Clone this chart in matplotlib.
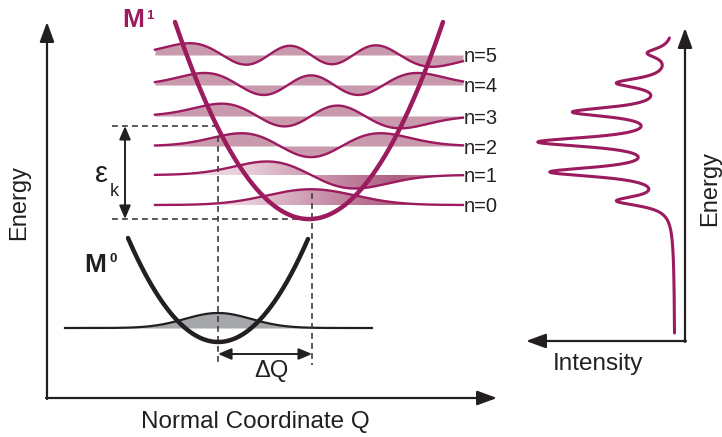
import numpy as np
import matplotlib.pyplot as plt
from matplotlib.colors import LinearSegmentedColormap
from matplotlib.patches import Polygon
from numpy.polynomial.hermite import hermval
from math import factorial, pi, sqrt

plt.rcParams['font.family'] = ['Liberation Sans', 'DejaVu Sans']

MAGENTA = '#9c1a5e'
PINK = '#c999ad'
INK = '#231f20'
DASH = '#3c3c3c'

# 画布按像素坐标 (x 向右, y 向下)
# 势能曲线 M1 / M0 上的三个点 (左端, 最低点, 右端)
m1_curve_x = [175, 312, 443]
m1_curve_y = [22, 219, 22]
m0_curve_x = [128, 218, 308]
m0_curve_y = [238, 342, 239]

# M1 的振动能级 n=0..5
levels_n = [0, 1, 2, 3, 4, 5]
levels_y = [205, 175, 146, 116, 85, 55]
wf_center = 311
wf_scale = 44
wf_amp = 21
wf_x = (155, 463)

# M0 基态振动波函数
ground_y = 328
ground_center = 218
ground_scale = 33
ground_amp = 20
ground_x = (65, 372)

# 右侧光谱 (强度向左)
spec_peak_y = [201, 172, 142, 112, 83, 53]
spec_peak_amp = [52, 117, 128, 94, 52, 24]
spec_width = 6
spec_base_x = 675
spec_y = (333, 38)

# 坐标轴 (原点, 箭头终点)
left_origin = (47, 398)
left_tip_y = 22
left_tip_x = 497
right_origin = (685, 341)
right_tip_y = 28
right_tip_x = 526

# 标注位置
eps_top, eps_bottom, eps_x, dash_left = 126, 219, 125, 112
dq_y, dq_x0, dq_x1 = 354, 218, 312
vdash_bottom = 365


def psi(n, xi):
    c = np.zeros(n + 1)
    c[n] = 1
    norm = 1 / sqrt(2 ** n * factorial(n)) * pi ** -0.25
    return norm * hermval(xi, c) * np.exp(-xi ** 2 / 2)


def parabola(px, py, num=300):
    coef = np.polyfit(px, py, 2)
    x = np.linspace(px[0], px[-1], num)
    return x, np.polyval(coef, x)


def arrow(ax, start, end, style='-|>', hl=0.6, hw=0.22, lw=1.6, ms=20):
    ax.annotate('', xy=end, xytext=start,
                arrowprops=dict(arrowstyle=f'{style},head_length={hl},head_width={hw}',
                                color=INK, lw=lw, shrinkA=0, shrinkB=0,
                                mutation_scale=ms))


fig = plt.figure(figsize=(7.22, 4.37), dpi=100)
ax = fig.add_axes([0, 0, 1, 1])

grad_cmap = LinearSegmentedColormap.from_list(
    'wf', [(0, '#f4e8ee'), (0.3, '#e7cdd9'), (0.58, '#c58aa4'),
           (0.78, '#ad5f82'), (1, '#c999ad')])

# M1 振动波函数
x = np.linspace(wf_x[0], wf_x[1], 500)
xi = (x - wf_center) / wf_scale
for n, yl in zip(levels_n, levels_y):
    yw = yl - wf_amp * psi(n, -xi)
    if n <= 1:
        verts = np.concatenate([np.c_[x, yw], np.c_[x[::-1], np.full_like(x, yl)]])
        poly = Polygon(verts, closed=True, fc='none', ec='none')
        ax.add_patch(poly)
        im = ax.imshow(np.linspace(0, 1, 256).reshape(1, -1), cmap=grad_cmap,
                       extent=[wf_x[0], wf_x[1], yl + 25, yl - 25],
                       aspect='auto', zorder=1, interpolation='bilinear')
        im.set_clip_path(poly)
    else:
        ax.fill_between(x, yw, yl, color=PINK, lw=0, zorder=1)
    ax.plot(x, yw, color=MAGENTA, lw=1.7, zorder=2)
    ax.text(wf_x[1] + 1, yl + 2, f'n={n}', fontsize=14.5, color=INK,
            ha='left', va='center')

# M0 基态波函数
xg = np.linspace(ground_x[0], ground_x[1], 400)
yg = ground_y - ground_amp * psi(0, (xg - ground_center) / ground_scale)
ax.fill_between(xg, yg, ground_y, color='#a6a7ab', lw=0, zorder=1)
ax.plot(xg, yg, color=INK, lw=1.6, zorder=2)

# 虚线
ds = dict(color=DASH, lw=1.2, ls=(0, (3.5, 2.5)), zorder=3)
ax.plot([dash_left, m0_curve_x[1]], [eps_top, eps_top], **ds)
ax.plot([dash_left, m1_curve_x[1]], [eps_bottom, eps_bottom], **ds)
ax.plot([m0_curve_x[1], m0_curve_x[1]], [eps_top, vdash_bottom], **ds)
ax.plot([m1_curve_x[1], m1_curve_x[1]], [levels_y[0] - 12, vdash_bottom], **ds)

# 势能曲线
xp, yp = parabola(m1_curve_x, m1_curve_y)
ax.plot(xp, yp, color=MAGENTA, lw=3.2, solid_capstyle='round', zorder=4)
xp, yp = parabola(m0_curve_x, m0_curve_y)
ax.plot(xp, yp, color=INK, lw=3.2, solid_capstyle='round', zorder=4)

# ε_k 和 ΔQ 双箭头
arrow(ax, (eps_x, eps_bottom), (eps_x, eps_top), style='<|-|>', hl=0.4, hw=0.17, lw=1.4)
arrow(ax, (dq_x0, dq_y), (dq_x1, dq_y), style='<|-|>', hl=0.4, hw=0.17, lw=1.4)
ax.text(95, 182, 'ε', fontsize=21, color=INK, ha='left', va='baseline')
ax.text(110, 196, 'k', fontsize=13, color=INK, ha='left', va='baseline')
ax.text(271, 377, 'ΔQ', fontsize=17, color=INK, ha='center', va='baseline')

# 标签 M1 / M0
ax.text(122, 27, 'M', fontsize=19, fontweight='bold', color=MAGENTA, va='baseline')
ax.text(146, 19, '1', fontsize=9.5, fontweight='bold', color=MAGENTA, va='baseline')
ax.text(84, 272, 'M', fontsize=19, fontweight='bold', color=INK, va='baseline')
ax.text(109, 262, '0', fontsize=9.5, fontweight='bold', color=INK, va='baseline')

# 左侧坐标轴
arrow(ax, (left_origin[0], left_origin[1] + 1), (left_origin[0], left_tip_y))
arrow(ax, (left_origin[0] - 1, left_origin[1]), (left_tip_x, left_origin[1]))
ax.text(25, 203, 'Energy', fontsize=17, color=INK, rotation=90,
        rotation_mode='anchor', ha='center', va='baseline')
ax.text(255, 428, 'Normal Coordinate Q', fontsize=17.5, color=INK,
        ha='center', va='baseline')

# 右侧光谱
ys = np.linspace(spec_y[0], spec_y[1], 800)
inten = np.zeros_like(ys)
for yk, ak in zip(spec_peak_y, spec_peak_amp):
    inten += ak / (1 + ((ys - yk) / spec_width) ** 2)
ax.plot(spec_base_x - inten, ys, color=MAGENTA, lw=2.2, solid_capstyle='round')

arrow(ax, (right_origin[0], right_origin[1] + 1), (right_origin[0], right_tip_y))
arrow(ax, (right_origin[0] + 1, right_origin[1]), (right_tip_x, right_origin[1]))
ax.text(716, 189, 'Energy', fontsize=17, color=INK, rotation=90,
        rotation_mode='anchor', ha='center', va='baseline')
ax.text(598, 370, 'Intensity', fontsize=17.5, color=INK, ha='center', va='baseline')

ax.set_xlim(0, 722)
ax.set_ylim(437, 0)
ax.axis('off')
fig.savefig('out.png', dpi=100)
